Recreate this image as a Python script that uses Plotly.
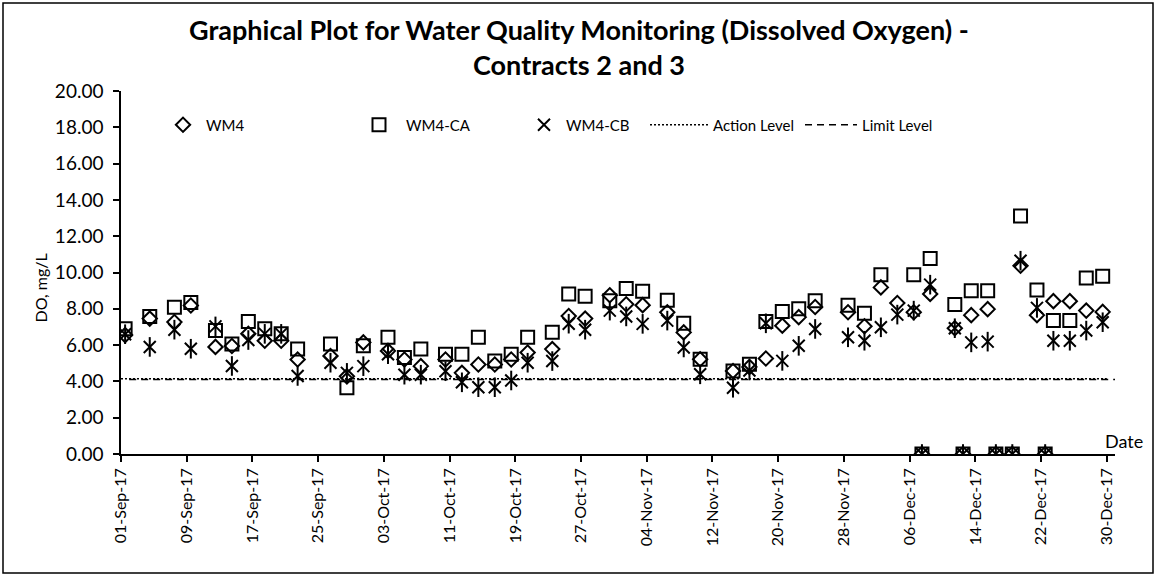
import pandas as pd
import plotly.graph_objects as go

# Sampling dates and dissolved oxygen readings (mg/L)
sample_dates = [
    "2017-09-01", "2017-09-04", "2017-09-07", "2017-09-09", "2017-09-12", "2017-09-14",
    "2017-09-16", "2017-09-18", "2017-09-20", "2017-09-22", "2017-09-26", "2017-09-28",
    "2017-09-30", "2017-10-03", "2017-10-05", "2017-10-07", "2017-10-10", "2017-10-12",
    "2017-10-14", "2017-10-16", "2017-10-18", "2017-10-20", "2017-10-23", "2017-10-25",
    "2017-10-27", "2017-10-30", "2017-11-01", "2017-11-03", "2017-11-06", "2017-11-08",
    "2017-11-10", "2017-11-14", "2017-11-16", "2017-11-18", "2017-11-20", "2017-11-22",
    "2017-11-24", "2017-11-28", "2017-11-30", "2017-12-02", "2017-12-04", "2017-12-06",
    "2017-12-07", "2017-12-08", "2017-12-11", "2017-12-12", "2017-12-13", "2017-12-15",
    "2017-12-16", "2017-12-18", "2017-12-19", "2017-12-21", "2017-12-22", "2017-12-23",
    "2017-12-25", "2017-12-27", "2017-12-29",
]

wm4 = [
    6.55, 7.46, 7.27, 8.18, 5.90, 5.95,
    6.62, 6.24, 6.24, 5.21, 5.40, 4.28,
    6.15, 5.68, 5.21, 4.84, 5.21, 4.47,
    4.93, 4.93, 5.21, 5.59, 5.78, 7.60,
    7.46, 8.75, 8.25, 8.20, 7.81, 6.70,
    5.22, 4.57, 4.80, 5.26, 7.07, 7.54,
    8.10, 7.81, 7.04, 9.18, 8.32, 7.81,
    0.00, 8.82, 6.93, 0.00, 7.65, 7.98,
    0.00, 0.00, 10.37, 7.65, 0.00, 8.42,
    8.42, 7.90, 7.83,
]

wm4_ca = [
    6.90, 7.58, 8.08, 8.35, 6.80, 6.06,
    7.30, 6.90, 6.62, 5.78, 6.06, 3.65,
    5.96, 6.43, 5.31, 5.78, 5.50, 5.50,
    6.43, 5.12, 5.50, 6.43, 6.71, 8.82,
    8.69, 8.45, 9.12, 8.97, 8.47, 7.20,
    5.22, 4.57, 4.94, 7.30, 7.85, 8.00,
    8.45, 8.20, 7.75, 9.88, None, 9.88,
    0.00, 10.77, 8.24, 0.00, 9.00, 9.00,
    0.00, 0.00, 13.11, 9.04, 0.00, 7.35,
    7.35, 9.70, 9.79,
]

wm4_cb = [
    6.60, 5.90, 6.85, 5.80, 7.03, 4.85,
    6.28, 6.62, 6.62, 4.30, 5.03, 4.47,
    4.84, 5.50, 4.37, 4.37, 4.56, 3.95,
    3.68, 3.68, 4.05, 5.03, 5.12, 7.18,
    6.85, 7.90, 7.58, 7.17, 7.35, 5.87,
    4.39, 3.65, 4.60, 7.20, 5.13, 5.96,
    6.89, 6.43, 6.24, 6.98, 7.68, 7.90,
    0.00, 9.33, 6.93, 0.00, 6.15, 6.19,
    0.00, 0.00, 10.65, 8.05, 0.00, 6.24,
    6.24, 6.80, 7.26,
]

action_level = 4.14
limit_level = 4.10
level_dates = ["2017-09-01", "2017-12-30"]

tick_dates = pd.date_range("2017-09-01", "2017-12-30", freq="8D")
tick_text = [d.strftime("%d-%b-%y") for d in tick_dates]
y_ticks = list(range(0, 21, 2))

FONT = "Lato"
DAY_MS = 86400000

# plot-area geometry in pixels
W, H = 1157, 576
ML, MR, MT, MB = 121, 42, 91, 122
PW, PH = W - ML - MR, H - MT - MB


def px_x(px):
    return (px - ML) / PW


def px_y(py):
    return (H - MB - py) / PH


fig = go.Figure()

common = dict(mode="markers", xperiod=DAY_MS, xperiodalignment="middle")

fig.add_trace(go.Scatter(
    x=sample_dates, y=wm4, name="WM4", legend="legend",
    marker=dict(symbol="diamond-open", size=11, color="black", line=dict(width=2)),
    **common))
fig.add_trace(go.Scatter(
    x=sample_dates, y=wm4_ca, name="WM4-CA", legend="legend2",
    marker=dict(symbol="square-open", size=13, color="black", line=dict(width=2)),
    **common))
fig.add_trace(go.Scatter(
    x=sample_dates, y=wm4_cb, name="WM4-CB", legend="legend3", legendgroup="cb",
    marker=dict(symbol="x-thin-open", size=12, color="black", line=dict(width=2, color="black")),
    **common))
fig.add_trace(go.Scatter(
    x=sample_dates, y=wm4_cb, name="WM4-CB", legendgroup="cb", showlegend=False,
    marker=dict(symbol="line-ns-open", size=14, color="black", line=dict(width=2, color="black")),
    **common))

fig.add_trace(go.Scatter(
    x=level_dates, y=[action_level] * len(level_dates), name="Action Level", legend="legend4",
    mode="lines", line=dict(color="black", width=1.5, dash="2px,2px"),
    xperiod=DAY_MS, xperiodalignment="start"))
fig.add_trace(go.Scatter(
    x=level_dates, y=[limit_level] * len(level_dates), name="Limit Level", legend="legend5",
    mode="lines", line=dict(color="black", width=1.5, dash="7px,5px"),
    xperiod=DAY_MS, xperiodalignment="end"))

legend_style = dict(orientation="h", bgcolor="rgba(0,0,0,0)",
                    font=dict(family=FONT, size=15, color="black"),
                    xanchor="left", yanchor="middle", itemclick=False, itemdoubleclick=False)
legend_y = px_y(125)

fig.update_layout(
    width=W, height=H,
    margin=dict(l=ML, r=MR, t=MT, b=MB, autoexpand=False),
    paper_bgcolor="white", plot_bgcolor="white",
    font=dict(family=FONT, color="black"),
    legend=dict(x=px_x(160), y=legend_y, itemwidth=36, **legend_style),
    legend2=dict(x=px_x(352), y=legend_y, itemwidth=44, **legend_style),
    legend3=dict(x=px_x(522), y=legend_y, itemwidth=34, **legend_style),
    legend4=dict(x=px_x(645), y=legend_y, itemwidth=58, **legend_style),
    legend5=dict(x=px_x(800), y=legend_y, itemwidth=52, **legend_style),
    xaxis=dict(
        type="date", range=["2017-09-01", "2017-12-31"],
        tickmode="array", tickvals=list(tick_dates), ticktext=tick_text,
        tickangle=-90, ticks="outside", ticklen=6, tickwidth=1.5, tickcolor="black",
        showline=True, linecolor="black", linewidth=1.5, showgrid=False, zeroline=False,
        tickfont=dict(family=FONT, size=16, color="black"), automargin=False,
    ),
    yaxis=dict(
        range=[0, 20], tickmode="array", tickvals=y_ticks,
        ticktext=[f"{v:.2f}" for v in y_ticks],
        ticks="outside", ticklen=6, tickwidth=1.5, tickcolor="black",
        showline=True, linecolor="black", linewidth=1.5, showgrid=False, zeroline=False,
        tickfont=dict(family=FONT, size=19, color="black"), automargin=False,
        ticklabelstandoff=6,
    ),
    showlegend=True,
)

# chart title (two centred lines)
fig.add_annotation(text="<b>Graphical Plot for Water Quality Monitoring (Dissolved Oxygen) -</b>",
                   xref="paper", yref="paper", x=px_x(W / 2), y=px_y(29),
                   xanchor="center", yanchor="middle", showarrow=False,
                   font=dict(family=FONT, size=27, color="black"))
fig.add_annotation(text="<b>Contracts 2 and 3</b>",
                   xref="paper", yref="paper", x=px_x(W / 2), y=px_y(65),
                   xanchor="center", yanchor="middle", showarrow=False,
                   font=dict(family=FONT, size=27, color="black"))

# axis captions
fig.add_annotation(text="DO, mg/L", xref="paper", yref="paper", x=px_x(28), y=px_y(288),
                   textangle=-90, showarrow=False, font=dict(family=FONT, size=16, color="black"))
fig.add_annotation(text="Date", xref="paper", yref="paper", x=px_x(1103), y=0,
                   xanchor="left", yanchor="bottom", showarrow=False,
                   font=dict(family=FONT, size=18, color="black"))

# chart border
fig.add_shape(type="rect", xref="paper", yref="paper",
              x0=px_x(3), x1=px_x(1153), y0=px_y(573), y1=px_y(3),
              line=dict(color="black", width=1.5), fillcolor="rgba(0,0,0,0)", layer="below")

fig.write_html("out.html")
